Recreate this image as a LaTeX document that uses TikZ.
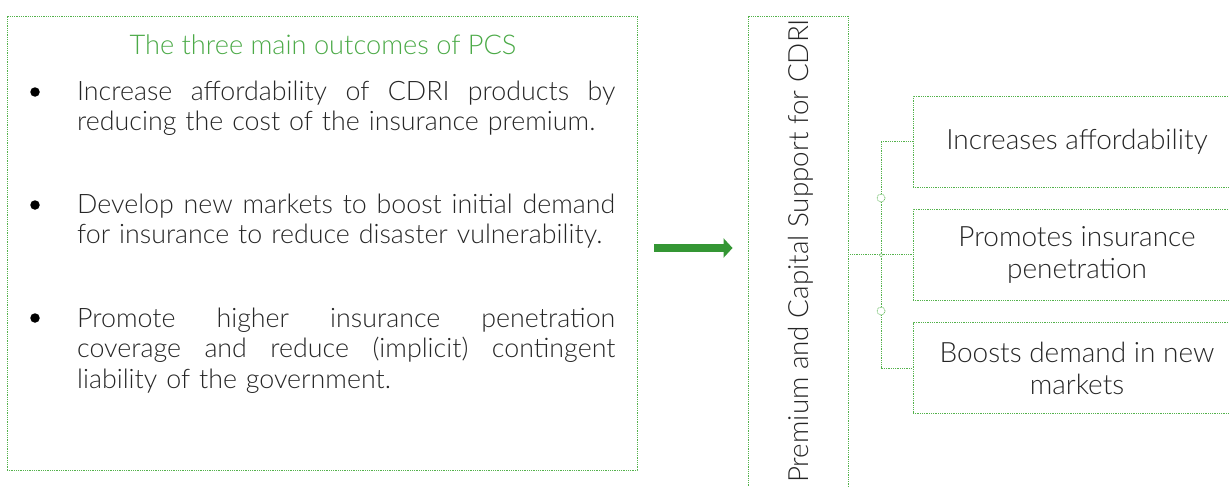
\documentclass[tikz,border=0pt]{standalone}
\usepackage{fontspec}
\setmainfont{Lato Light}
\usetikzlibrary{arrows.meta,calc}
\definecolor{frame}{RGB}{84,178,76}
\definecolor{heading}{RGB}{76,170,72}
\definecolor{arrowfill}{RGB}{52,150,52}
\definecolor{ink}{RGB}{38,38,38}
% a full-width line whose word spaces stretch
\newcommand{\fullline}[1]{\makebox[538pt][s]{\spaceskip=0pt\xspaceskip=0pt\relax #1}}
\begin{document}
\begin{tikzpicture}[x=1pt,y=-1pt,
  dotbox/.style={draw=frame, line width=0.9pt, dash pattern=on 0.9pt off 0.9pt, inner sep=0pt},
  link/.style={draw=frame, line width=0.9pt, dash pattern=on 0.9pt off 0.9pt},
  body/.style={font=\fontsize{26.8}{30.8}\selectfont, text=ink},
  item/.style={body, anchor=base west, inner sep=0pt, text width=538pt, align=left},
  bulletdot/.style={circle, fill=black, inner sep=0pt, minimum size=9.5pt},
  ring/.style={circle, draw=frame, fill=white, line width=0.7pt, dash pattern=on 0.8pt off 0.8pt, inner sep=0pt, minimum size=8pt},
  choice/.style={dotbox, minimum width=328pt, minimum height=91pt, text=ink, align=center,
    font=\fontsize{28}{32}\selectfont}
]
\clip (0,0) rectangle (1229,487);

% left panel: the three outcomes
\node[dotbox, minimum width=630pt, minimum height=454pt] (outcomes) at (322,243) {};
\node[font=\fontsize{27.2}{30}\selectfont, text=heading, anchor=base] (title) at (323,55)
  {The three main outcomes of PCS};

\node[bulletdot] (d1) at (35,92) {};
\node[item] (i1) at (77,100) {%
  \fullline{Increase affordability of CDRI products by}\\
  reducing the cost of the insurance premium.};

\node[bulletdot] (d2) at (35,205) {};
\node[item] (i2) at (77,213) {%
  \fullline{Develop new markets to boost initial demand}\\
  for insurance to reduce disaster vulnerability.};

\node[bulletdot] (d3) at (35,318) {};
\node[item] (i3) at (77,327) {%
  \fullline{Promote higher insurance penetration}\\
  \fullline{coverage and reduce (implicit) contingent}\\
  liability of the government.};

% middle column
\node[dotbox, minimum width=100pt, minimum height=479pt] (pcs) at (798,255.5) {};
\node[rotate=90, anchor=base, font=\fontsize{27.8}{30}\selectfont, text=ink] (pcslabel) at (808,251)
  {Premium and Capital Support for CDRI};

% arrow between the panels
\coordinate (ay) at (0,248);
\draw[line width=8pt, arrowfill, -{Triangle[length=9pt,width=19pt]}]
  ([xshift=17pt]outcomes.east |- ay) -- ([xshift=-15pt]pcs.west |- ay);

% right column
\node[choice] (b1) at (1077,141.5) {Increases affordability};
\node[choice] (b2) at (1077,254.5) {Promotes insurance\\penetration};
\node[choice] (b3) at (1077,368) {Boosts demand in new\\markets};

\coordinate (hub) at (881,255);
\draw[link] (pcs.east |- b2.west) -- (b2.west);
\draw[link] (b1.west) -| (hub) |- (b3.west);
\node[ring] (r1) at (881,198) {};
\node[ring] (r2) at (881,311) {};
\node[ring, minimum size=3.5pt] (r0) at (hub) {};
\end{tikzpicture}
\end{document}
